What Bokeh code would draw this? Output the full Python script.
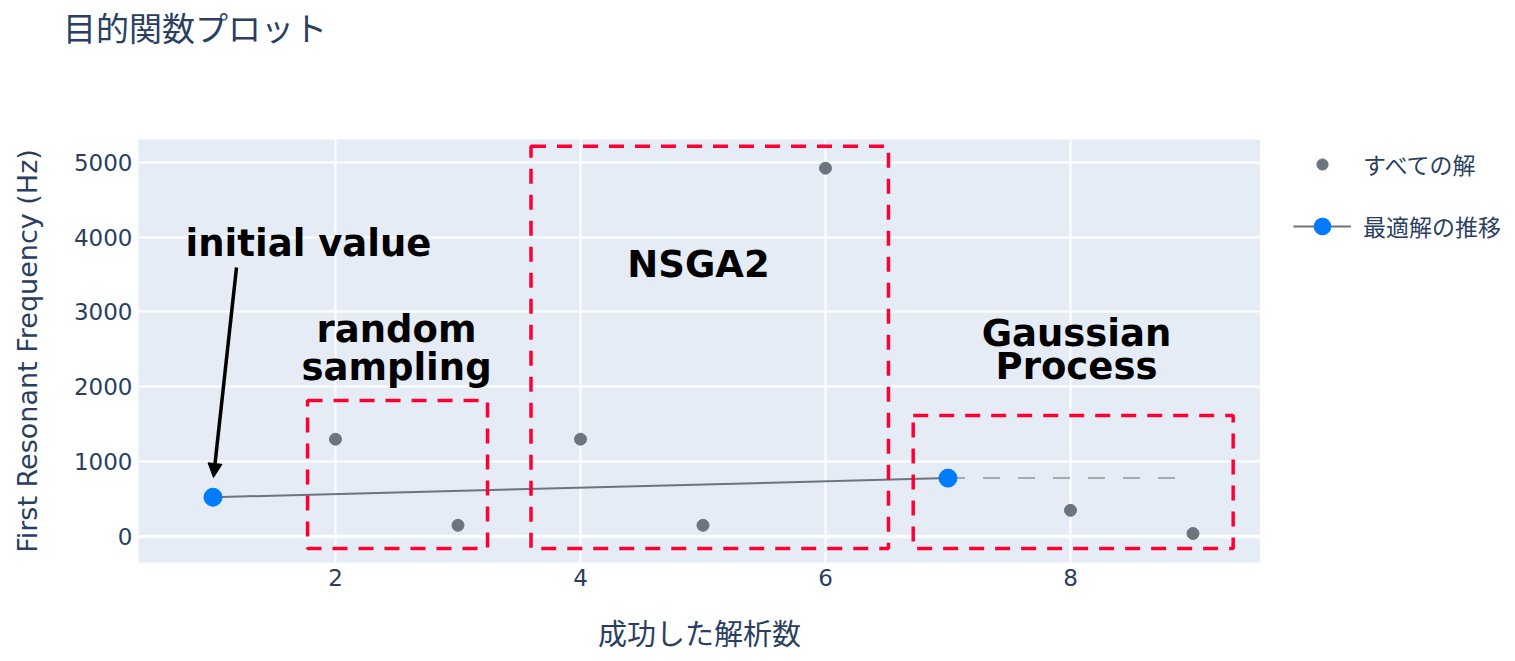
from bokeh.plotting import figure
from bokeh.layouts import column, row
from bokeh.models import (Range1d, FixedTicker, Label, BoxAnnotation, Arrow,
                          NormalHead, Legend, LegendItem, Span, Div)
from bokeh.embed import file_html
from bokeh.resources import INLINE

# ---------------- data ----------------
trial = [1, 2, 3, 4, 5, 6, 7, 8, 9]
freq = [525, 1300, 150, 1300, 150, 4920, 780, 350, 40]
best_trial = [1, 7]
best_freq = [525, 780]
x_ticks = [2, 4, 6, 8]
y_ticks = [0, 1000, 2000, 3000, 4000, 5000]
title_text = "目的関数プロット"
x_title = "成功した解析数"
y_title = "First Resonant Frequency (Hz)"
legend_labels = ["すべての解", "最適解の推移"]

# annotation boxes (data space)
box_left = [1.772, 3.596, 6.716]
box_right = [3.241, 6.514, 9.328]
box_bottom = [-160, -160, -160]
box_top = [1817, 5214, 1616]

# annotation texts
ann_text = ["initial value", "random", "sampling", "NSGA2", "Gaussian", "Process"]

# ---------------- layout ----------------
W, H = 1515, 661
TITLE_H = 50
FL, FR, FT, FB = 138, 1260, 139, 562
XR = (0.392, 9.551)
YR = (-347, 5303)
PH = H - TITLE_H

def dx(px):
    return XR[0] + (px - FL) * (XR[1] - XR[0]) / (FR - FL)

def dy(py):
    return YR[1] - (py - FT) * (YR[1] - YR[0]) / (FB - FT)

ann_pos = [(308, 243), (396, 329), (396, 367), (698, 264), (1076, 333), (1076, 366)]

TXT = "#2a3f5f"
LAT = "DejaVu Sans"
JP = "Noto Sans CJK JP"
GRAY = "#6c757d"
BLUE = "#007bff"

title_div = Div(
    text=('<div style="font-family:\'Noto Sans CJK JP\';font-size:33px;'
          'color:%s;line-height:39px;padding:8px 0 0 63px;white-space:nowrap;">%s</div>'
          % (TXT, title_text)),
    width=W, height=TITLE_H, margin=(0, 0, 0, 0))

p = figure(width=FR, height=PH, x_range=Range1d(*XR), y_range=Range1d(*YR),
           output_backend="svg", toolbar_location=None,
           min_border_left=FL, min_border_right=0,
           min_border_top=FT - TITLE_H, min_border_bottom=H - FB)
p.background_fill_color = "#E5ECF6"
p.border_fill_color = "white"
p.outline_line_color = None

p.xaxis.ticker = FixedTicker(ticks=x_ticks)
p.yaxis.ticker = FixedTicker(ticks=y_ticks)
for ax in (p.xaxis[0], p.yaxis[0]):
    ax.axis_line_color = None
    ax.major_tick_line_color = None
    ax.minor_tick_line_color = None
    ax.major_label_text_font = LAT
    ax.major_label_text_font_size = "23px"
    ax.major_label_text_color = TXT
    ax.major_label_standoff = 0
    ax.axis_label_text_color = TXT
    ax.axis_label_text_font_style = "normal"

p.xaxis.axis_label = x_title
p.xaxis.axis_label_text_font = JP
p.xaxis.axis_label_text_font_size = "29px"
p.xaxis.axis_label_standoff = 22
p.yaxis.axis_label = y_title
p.yaxis.axis_label_text_font = LAT
p.yaxis.axis_label_text_font_size = "27px"
p.yaxis.axis_label_standoff = 28

p.xgrid.grid_line_color = "white"
p.xgrid.grid_line_width = 2
p.ygrid.grid_line_color = "white"
p.ygrid.grid_line_width = 2
zero = Span(location=0, dimension="width", line_color="white", line_width=3.5, level="underlay")
p.add_layout(zero)

# ---------------- traces ----------------
best_line = p.line(best_trial, best_freq, line_color=GRAY, line_width=2)
p.line([best_trial[-1], trial[-1]], [best_freq[-1], best_freq[-1]],
       line_color="#8f969c", line_width=1.5, line_dash="17 18")
all_pts = p.scatter(trial, freq, size=12, color=GRAY)
best_pts = p.scatter(best_trial, best_freq, size=18, color=BLUE)

# ---------------- annotations ----------------
for l, r, b, t in zip(box_left, box_right, box_bottom, box_top):
    p.add_layout(BoxAnnotation(left=l, right=r, bottom=b, top=t,
                               fill_color=None, fill_alpha=0,
                               line_color="#ff0033", line_alpha=1.0, line_width=3.5,
                               line_dash="15 11"))

for txt, (px, py) in zip(ann_text, ann_pos):
    p.add_layout(Label(x=dx(px), y=dy(py), text=txt, text_align="center",
                       text_baseline="alphabetic", text_font=LAT,
                       text_font_style="bold", text_font_size="37px",
                       text_color="black"))

p.add_layout(Arrow(end=NormalHead(size=14, fill_color="black", line_color="black"),
                   x_start=dx(236), y_start=dy(267), x_end=dx(213), y_end=dy(477),
                   line_width=3.5, line_color="black"))

# ---------------- legend panel ----------------
# its frame is aligned with the main frame (page rows FT..FB); its ranges keep
# the (legend-only) copies of the series out of view
LW = W - FR
q = figure(width=LW, height=PH, x_range=Range1d(-2, -1), y_range=Range1d(-2, -1),
           output_backend="svg", toolbar_location=None,
           x_axis_location=None, y_axis_location=None, min_border=0)
q.grid.visible = False
q.outline_line_color = None
q.background_fill_color = "white"
q.border_fill_color = "white"
leg_all = q.scatter(trial, freq, size=12, color=GRAY)
leg_line = q.line(best_trial, best_freq, line_color=GRAY, line_width=2)
leg_best = q.scatter(best_trial, best_freq, size=18, color=BLUE)

def make_legend(label, renderers, gh, y_center_page):
    leg = Legend(items=[LegendItem(label=label, renderers=renderers)],
                 location=(1293 - FR, FB - (y_center_page + gh / 2)),
                 glyph_width=58, glyph_height=gh, label_height=gh,
                 label_standoff=12, padding=0, margin=0, spacing=0,
                 background_fill_alpha=0, border_line_color=None,
                 label_text_font=JP, label_text_font_size="23px",
                 label_text_color=TXT)
    q.add_layout(leg)

make_legend(legend_labels[0], [leg_all], 28, 167)
make_legend(legend_labels[1], [leg_line, leg_best], 42, 226)

layout = column(title_div, row(p, q, spacing=0), spacing=0)
open("out.html", "w").write(file_html(layout, INLINE))
